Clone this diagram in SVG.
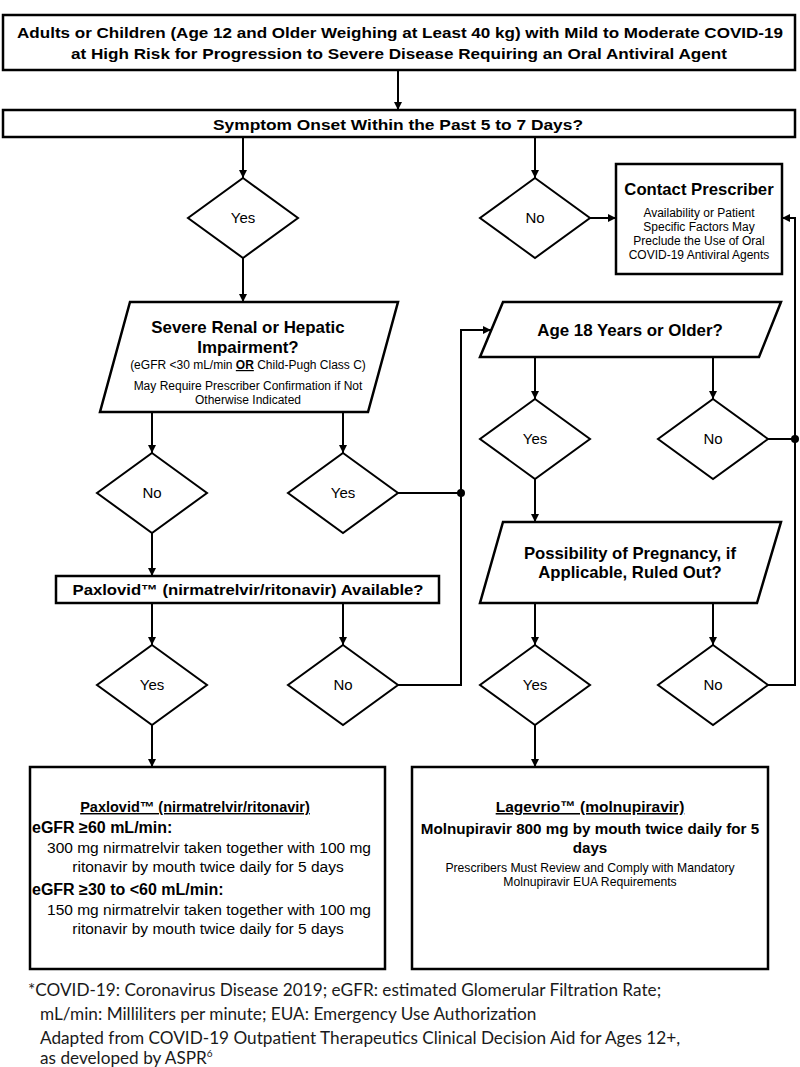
<svg xmlns="http://www.w3.org/2000/svg" width="800" height="1067" viewBox="0 0 800 1067">
<style>
.box{fill:#fff;stroke:#000;stroke-width:2.5}
.sh{fill:#fff;stroke:#000;stroke-width:2}
.ln{fill:none;stroke:#000;stroke-width:2}
.t{font-family:"Liberation Sans",Arial,sans-serif;fill:#000;text-anchor:middle}
.l{text-anchor:start}
.n{font-family:"Liberation Sans Narrow","Liberation Sans",Arial,sans-serif;font-weight:bold;fill:#000;text-anchor:middle}
.b{font-weight:bold}
.d{font-size:15px}
.s{font-size:12px}
.f{font-family:Lato,"Liberation Sans",sans-serif;font-size:17.2px;fill:#1a1a1a}
</style>
<defs>
<marker id="ah" markerUnits="userSpaceOnUse" viewBox="0 0 10 10" refX="10" refY="5" markerWidth="9" markerHeight="8" orient="auto">
<path d="M0,0 L10,5 L0,10 z" fill="#000"/>
</marker>
</defs>
<rect width="800" height="1067" fill="#fff"/>

<g id="connectors" class="ln">
<line x1="398" y1="70" x2="398" y2="110" marker-end="url(#ah)"/>
<line x1="243" y1="137" x2="243" y2="178" marker-end="url(#ah)"/>
<line x1="535" y1="137" x2="535" y2="178" marker-end="url(#ah)"/>
<line x1="590" y1="218" x2="616" y2="218" marker-end="url(#ah)"/>
<line x1="243" y1="258" x2="243" y2="302" marker-end="url(#ah)"/>
<line x1="152" y1="412" x2="152" y2="453" marker-end="url(#ah)"/>
<line x1="343" y1="412" x2="343" y2="453" marker-end="url(#ah)"/>
<line x1="152" y1="533" x2="152" y2="576" marker-end="url(#ah)"/>
<line x1="398" y1="493" x2="461" y2="493"/>
<line x1="152" y1="603" x2="152" y2="645" marker-end="url(#ah)"/>
<line x1="343" y1="603" x2="343" y2="645" marker-end="url(#ah)"/>
<polyline points="398,685 461,685 461,330 491,330" marker-end="url(#ah)"/>
<line x1="535" y1="357" x2="535" y2="399" marker-end="url(#ah)"/>
<line x1="713" y1="357" x2="713" y2="399" marker-end="url(#ah)"/>
<line x1="768" y1="439" x2="795" y2="439"/>
<line x1="535" y1="479" x2="535" y2="522" marker-end="url(#ah)"/>
<line x1="535" y1="603" x2="535" y2="645" marker-end="url(#ah)"/>
<line x1="713" y1="603" x2="713" y2="645" marker-end="url(#ah)"/>
<polyline points="768,685 795,685 795,218 782,218" marker-end="url(#ah)"/>
<line x1="152" y1="725" x2="152" y2="767" marker-end="url(#ah)"/>
<line x1="535" y1="725" x2="535" y2="767" marker-end="url(#ah)"/>
<circle cx="461" cy="493" r="4" fill="#000" stroke="none"/>
<circle cx="795" cy="439" r="4" fill="#000" stroke="none"/>
</g>

<g id="start">
<rect class="box" x="3" y="15" width="792" height="55"/>
<text class="n" font-size="15.5" x="400" y="38" textLength="766" lengthAdjust="spacingAndGlyphs">Adults or Children (Age 12 and Older Weighing at Least 40 kg) with Mild to Moderate COVID-19</text>
<text class="n" font-size="15.5" x="399" y="59" textLength="656" lengthAdjust="spacingAndGlyphs">at High Risk for Progression to Severe Disease Requiring an Oral Antiviral Agent</text>
</g>

<g id="symptom">
<rect class="box" x="3" y="110" width="792" height="27"/>
<text class="n" font-size="15.5" x="398" y="130" textLength="370" lengthAdjust="spacingAndGlyphs">Symptom Onset Within the Past 5 to 7 Days?</text>
</g>

<g id="d-yes1">
<polygon class="sh" points="243,178 298,218 243,258 188,218"/>
<text class="t d" x="243" y="223">Yes</text>
</g>
<g id="d-no1">
<polygon class="sh" points="535,178 590,218 535,258 480,218"/>
<text class="t d" x="535" y="223">No</text>
</g>

<g id="contact">
<rect class="box" x="616" y="164" width="166" height="110"/>
<text class="t b" font-size="16.7" x="699" y="195">Contact Prescriber</text>
<text class="t s" x="699" y="217">Availability or Patient</text>
<text class="t s" x="699" y="231">Specific Factors May</text>
<text class="t s" x="699" y="245">Preclude the Use of Oral</text>
<text class="t s" x="699" y="259">COVID-19 Antiviral Agents</text>
</g>

<g id="renal">
<polygon class="box" points="130,302 398,302 368,412 100,412"/>
<text class="t b" font-size="16.9" x="248" y="333">Severe Renal or Hepatic</text>
<text class="t b" font-size="16.9" x="248" y="353">Impairment?</text>
<text class="t s" x="248" y="369">(eGFR &lt;30 mL/min <tspan font-weight="bold" text-decoration="underline">OR</tspan> Child-Pugh Class C)</text>
<text class="t s" x="248" y="390">May Require Prescriber Confirmation if Not</text>
<text class="t s" x="248" y="404">Otherwise Indicated</text>
</g>

<g id="d-no2">
<polygon class="sh" points="152,453 207,493 152,533 97,493"/>
<text class="t d" x="152" y="498">No</text>
</g>
<g id="d-yes2">
<polygon class="sh" points="343,453 398,493 343,533 288,493"/>
<text class="t d" x="343" y="498">Yes</text>
</g>

<g id="paxavail">
<rect class="box" x="56" y="576" width="383" height="27"/>
<text class="t b" font-size="15" x="248" y="595" textLength="351" lengthAdjust="spacingAndGlyphs">Paxlovid™ (nirmatrelvir/ritonavir) Available?</text>
</g>

<g id="d-yes3">
<polygon class="sh" points="152,645 207,685 152,725 97,685"/>
<text class="t d" x="152" y="690">Yes</text>
</g>
<g id="d-no3">
<polygon class="sh" points="343,645 398,685 343,725 288,685"/>
<text class="t d" x="343" y="690">No</text>
</g>

<g id="age">
<polygon class="box" points="503,302 781,302 759,357 480,357"/>
<text class="t b" font-size="16.9" x="630" y="336">Age 18 Years or Older?</text>
</g>
<g id="d-yes4">
<polygon class="sh" points="535,399 590,439 535,479 480,439"/>
<text class="t d" x="535" y="444">Yes</text>
</g>
<g id="d-no4">
<polygon class="sh" points="713,399 768,439 713,479 658,439"/>
<text class="t d" x="713" y="444">No</text>
</g>

<g id="pregnancy">
<polygon class="box" points="503,522 781,522 757,603 480,603"/>
<text class="t b" font-size="16.7" x="630" y="559">Possibility of Pregnancy, if</text>
<text class="t b" font-size="16.7" x="630" y="578">Applicable, Ruled Out?</text>
</g>
<g id="d-yes5">
<polygon class="sh" points="535,645 590,685 535,725 480,685"/>
<text class="t d" x="535" y="690">Yes</text>
</g>
<g id="d-no5">
<polygon class="sh" points="713,645 768,685 713,725 658,685"/>
<text class="t d" x="713" y="690">No</text>
</g>

<g id="paxlovid">
<rect class="box" x="30" y="767" width="355" height="202"/>
<text class="t b" font-size="14.5" x="195" y="812" text-decoration="underline">Paxlovid™ (nirmatrelvir/ritonavir)</text>
<text class="t b l" font-size="16" x="32" y="833">eGFR ≥60 mL/min:</text>
<text class="t" font-size="15.5" x="209" y="853">300 mg nirmatrelvir taken together with 100 mg</text>
<text class="t" font-size="15.5" x="208" y="872">ritonavir by mouth twice daily for 5 days</text>
<text class="t b l" font-size="16" x="32" y="895">eGFR ≥30 to &lt;60 mL/min:</text>
<text class="t" font-size="15.5" x="209" y="915">150 mg nirmatrelvir taken together with 100 mg</text>
<text class="t" font-size="15.5" x="208" y="934">ritonavir by mouth twice daily for 5 days</text>
</g>

<g id="lagevrio">
<rect class="box" x="412" y="767" width="356" height="202"/>
<text class="t b" font-size="15.5" x="590" y="812" text-decoration="underline">Lagevrio™  (molnupiravir)</text>
<text class="t b" font-size="15.2" x="590" y="834">Molnupiravir 800 mg by mouth twice daily for 5</text>
<text class="t b" font-size="15.2" x="590" y="853">days</text>
<text class="t" font-size="12.2" x="590" y="872">Prescribers Must Review and Comply with Mandatory</text>
<text class="t" font-size="12.2" x="590" y="886">Molnupiravir EUA Requirements</text>
</g>

<g id="footer">
<text class="f" x="28" y="996">*COVID-19: Coronavirus Disease 2019; eGFR: estimated Glomerular Filtration Rate;</text>
<text class="f" x="40" y="1020">mL/min: Milliliters per minute; EUA: Emergency Use Authorization</text>
<text class="f" x="40" y="1044">Adapted from COVID-19 Outpatient Therapeutics Clinical Decision Aid for Ages 12+,</text>
<text class="f" x="40" y="1064">as developed by ASPR<tspan font-size="10" dy="-7">6</tspan></text>
</g>
</svg>
